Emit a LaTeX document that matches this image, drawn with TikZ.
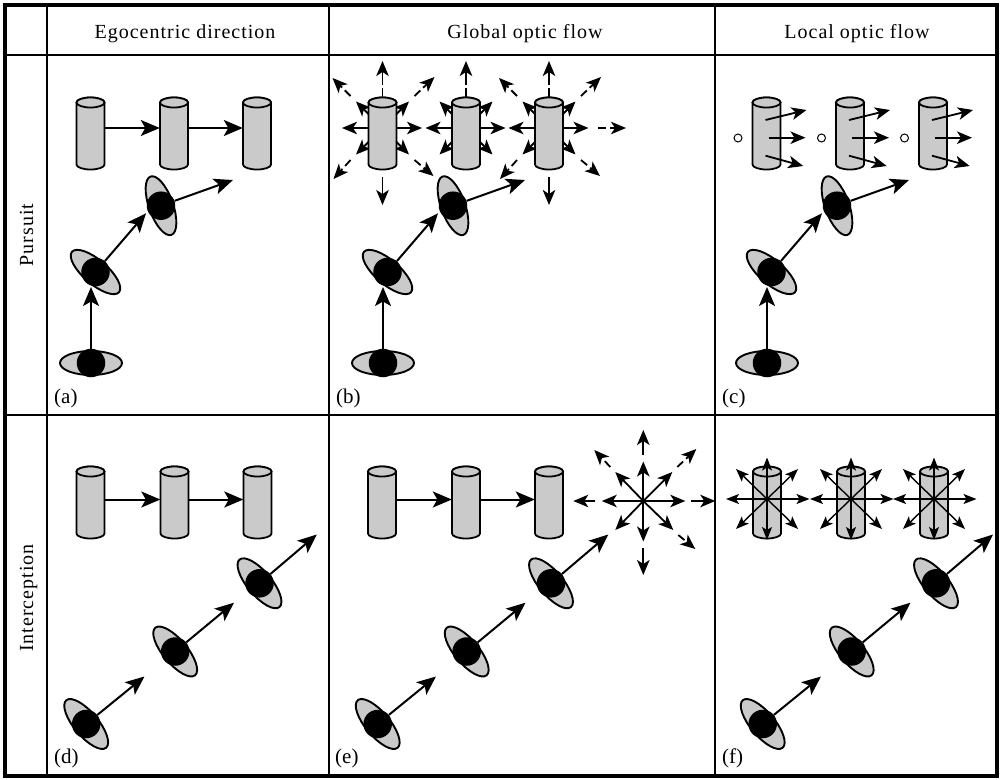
\documentclass[tikz,border=0pt]{standalone}
\usepackage{fontspec}
\setmainfont{Liberation Serif}
\newfontfamily\hdrfont[LetterSpace=5]{Liberation Serif}
\usetikzlibrary{arrows.meta,shapes.geometric,calc}
\definecolor{cg}{RGB}{202,202,202}
\tikzset{
  gridline/.style={line width=2pt},
  frameline/.style={line width=3.8pt},
  cylbody/.style={fill=cg, draw=black, line width=1.8pt},
  cylnode/.style={rectangle, draw=none, inner sep=0pt, minimum width=28pt, minimum height=62pt},
  eyeball/.style={ellipse, draw=black, fill=cg, line width=1.9pt, minimum width=62pt, minimum height=24pt, inner sep=0pt},
  pupil/.style={circle, fill=black, minimum size=28.5pt, inner sep=0pt},
  mv/.style={line width=2pt, -{Stealth[length=19pt,width=16pt,inset=4.5pt]}},
  fl/.style={line width=1.8pt, -{Stealth[length=15pt,width=12.5pt,inset=4pt]}},
  fld/.style={fl, dash pattern=on 8pt off 4pt},
  sm/.style={line width=1.4pt, -{Stealth[length=13pt,width=10pt,inset=3pt]}},
  hdr/.style={font=\hdrfont\fontsize{20}{24}\selectfont, anchor=base},
  lab/.style={font=\fontsize{21}{24}\selectfont, anchor=base west, inner sep=0pt},
  ring/.style={circle, draw=black, line width=1pt, minimum size=8pt, inner sep=0pt},
}
\newcommand\cyl[3]{%
  \path[cylbody] ({#2-14},#3) -- ({#2-14},{#3+62})
     arc[start angle=180,end angle=360,x radius=14pt,y radius=5pt]
     -- ({#2+14},#3)
     arc[start angle=0,end angle=180,x radius=14pt,y radius=5pt] -- cycle;
  \draw[cylbody] (#2,#3) ellipse[x radius=14pt,y radius=5pt];
  \node[cylnode] (#1) at (#2,{#3+31}) {};
}
\newcommand\eye[4]{%
  \node[eyeball, rotate=#4] (#1o) at (#2,#3) {};
  \node[pupil] (#1) at (#2,#3) {};
}
\newcommand\innerrays[1]{%
  \foreach \dx/\dy in {-40.5/0, 39.5/0, -26.5/-26.5, 26.5/-26.5, -26.5/26.5, 26.5/26.5}
    {\draw[fl] (#1) -- ($(#1)+(\dx,\dy)$);}
  \draw[fl, dash pattern=on 40pt off 3pt on 40pt] (#1) -- ($(#1)+(0,-67)$);
}
\newcommand\outerdiag[1]{%
  \foreach \ax/\ay/\bx/\by in {-32/-32/-50/-50, 32/-32/52/-51, -32/32/-49/51, 32/32/51/48}
    {\draw[fld] ($(#1)+(\ax,\ay)$) -- ($(#1)+(\bx,\by)$);}
  \draw[fl] ($(#1)+(0,49)$) -- ($(#1)+(0,77)$);
}
\newcommand\localrays[1]{%
  \draw[fl] ($(#1)+(-1,-13.5)$) -- ($(#1)+(40,-23.5)$);
  \draw[fl] ($(#1)+(2,4.2)$) -- ($(#1)+(39,4.2)$);
  \draw[fl] ($(#1)+(-1,22.2)$) -- ($(#1)+(36.7,32.5)$);
}
\newcommand\smallstar[1]{%
  \foreach \dx/\dy in {0/-41.5, 0/41, -41/0, 42.5/0, -31/-30, 31/-30, -31/30, 31/30}
    {\draw[sm] (#1) -- ($(#1)+(\dx,\dy)$);}
}
\begin{document}
\begin{tikzpicture}[x=1pt,y=-1pt]
\useasboundingbox (0,0) rectangle (1001,779);
\fill[white] (0,0) rectangle (1001,779);

% table
\draw[gridline] (47,5) -- (47,776);
\draw[gridline] (329,5) -- (329,776);
\draw[gridline] (715,5) -- (715,776);
\draw[gridline] (5,55) -- (997,55);
\draw[gridline] (5,415) -- (997,415);
\draw[frameline] (5,5) rectangle (997,776);

% headers
\node[hdr] (h1) at (185,38.8) {Egocentric direction};
\node[hdr] (h2) at (525,38.8) {Global optic flow};
\node[hdr] (h3) at (857,38.8) {Local optic flow};
\node[hdr, rotate=90] (r1) at (33,235) {Pursuit};
\node[hdr, rotate=90] (r2) at (33,598) {Interception};

% panel labels
\node[lab] (la) at (54,403) {(a)};
\node[lab] (lb) at (336,403) {(b)};
\node[lab] (lc) at (722,403) {(c)};
\node[lab] (ld) at (54,763) {(d)};
\node[lab] (le) at (335,763) {(e)};
\node[lab] (lf) at (722,763) {(f)};

% ---------- (a)
\cyl{a1}{90.5}{102.5}
\cyl{a2}{174}{102.5}
\cyl{a3}{257}{102.5}
\draw[mv] ([yshift=5.5pt]a1.east) -- ([yshift=5.5pt]a2.west);
\draw[mv] ([yshift=5.5pt]a2.east) -- ([yshift=5.5pt]a3.west);
\eye{aE1}{91}{363}{0}
\eye{aE2}{95.5}{272}{-40.7}
\eye{aE3}{161}{205.7}{-70.4}
\coordinate (aT1) at (91,287);
\coordinate (aT2) at (146,213.3);
\coordinate (aT3) at (233,180);
\draw[mv] (aE1) -- (aT1);
\draw[mv] (aE2) -- (aT2);
\draw[mv] (aE3) -- (aT3);

% ---------- (b)
\coordinate (b1s) at (382.5,128);
\coordinate (b2s) at (466,128);
\coordinate (b3s) at (549,128);
\innerrays{b1s}
\innerrays{b2s}
\innerrays{b3s}
\outerdiag{b1s}
\outerdiag{b3s}
\draw[fld] ($(b3s)+(49,0)$) -- ($(b3s)+(77,0)$);
\cyl{b1}{382.5}{102.5}
\cyl{b2}{466}{102.5}
\cyl{b3}{549}{102.5}
\eye{bE1}{383}{363}{0}
\eye{bE2}{387.5}{272}{-40.7}
\eye{bE3}{453}{205.7}{-70.4}
\coordinate (bT1) at (383,287);
\coordinate (bT2) at (438,213.3);
\coordinate (bT3) at (525,180);
\draw[mv] (bE1) -- (bT1);
\draw[mv] (bE2) -- (bT2);
\draw[mv] (bE3) -- (bT3);

% ---------- (c)
\cyl{c1}{766.5}{102.5}
\cyl{c2}{850}{102.5}
\cyl{c3}{933}{102.5}
\localrays{c1}
\localrays{c2}
\localrays{c3}
\node[ring] (c1r) at (738,138) {};
\node[ring] (c2r) at (821.5,138) {};
\node[ring] (c3r) at (904.5,138) {};
\eye{cE1}{767}{363}{0}
\eye{cE2}{771.5}{272}{-40.7}
\eye{cE3}{837}{205.7}{-70.4}
\coordinate (cT1) at (767,287);
\coordinate (cT2) at (822,213.3);
\coordinate (cT3) at (909,180);
\draw[mv] (cE1) -- (cT1);
\draw[mv] (cE2) -- (cT2);
\draw[mv] (cE3) -- (cT3);

% ---------- (d)
\cyl{d1}{90.5}{471.5}
\cyl{d2}{174.5}{471.5}
\cyl{d3}{257.5}{471.5}
\draw[mv] ([yshift=3pt]d1.east) -- ([yshift=3pt]d2.west);
\draw[mv] ([yshift=3pt]d2.east) -- ([yshift=3pt]d3.west);
\eye{dE1}{86.2}{724}{-50}
\eye{dE2}{175.2}{651.5}{-50}
\eye{dE3}{259.5}{583.3}{-50}
\coordinate (dT1) at (144.5,676.5);
\coordinate (dT2) at (234,602.7);
\coordinate (dT3) at (316.8,534.5);
\draw[mv] (dE1) -- (dT1);
\draw[mv] (dE2) -- (dT2);
\draw[mv] (dE3) -- (dT3);

% ---------- (e)
\cyl{e1}{382}{471.5}
\cyl{e2}{466}{471.5}
\cyl{e3}{549}{471.5}
\draw[mv] ([yshift=3pt]e1.east) -- ([yshift=3pt]e2.west);
\draw[mv] ([yshift=3pt]e2.east) -- ([yshift=3pt]e3.west);
\coordinate (eS) at (643.3,501);
\foreach \dx/\dy in {0/-39.5, 0/40.5, -41.5/0, 42/0, -28/-29, 29/-29, 30/29, -28/29}
  {\draw[fl] (eS) -- ($(eS)+(\dx,\dy)$);}
\foreach \ax/\ay/\bx/\by in {0/-46/0/-71, 0/47/0/74, -48/0/-70/0, 48/0/72/0}
  {\draw[fl] ($(eS)+(\ax,\ay)$) -- ($(eS)+(\bx,\by)$);}
\foreach \ax/\ay/\bx/\by in {-33/-34/-49/-51, 34/-34/53/-52, 35/34/52/48}
  {\draw[fld] ($(eS)+(\ax,\ay)$) -- ($(eS)+(\bx,\by)$);}
\eye{eE1}{377.7}{724}{-50}
\eye{eE2}{466.7}{651.5}{-50}
\eye{eE3}{551}{583.3}{-50}
\coordinate (eT1) at (436,676.5);
\coordinate (eT2) at (525.5,602.7);
\coordinate (eT3) at (608.3,534.5);
\draw[mv] (eE1) -- (eT1);
\draw[mv] (eE2) -- (eT2);
\draw[mv] (eE3) -- (eT3);

% ---------- (f)
\cyl{f1}{767}{471.5}
\cyl{f2}{851}{471.5}
\cyl{f3}{934}{471.5}
\coordinate (f1s) at ($(f1)+(0,-3.5)$);
\coordinate (f2s) at ($(f2)+(0,-3.5)$);
\coordinate (f3s) at ($(f3)+(0,-3.5)$);
\smallstar{f1s}
\smallstar{f2s}
\smallstar{f3s}
\eye{fE1}{762.7}{724}{-50}
\eye{fE2}{851.7}{651.5}{-50}
\eye{fE3}{936}{583.3}{-50}
\coordinate (fT1) at (821,676.5);
\coordinate (fT2) at (910.5,602.7);
\coordinate (fT3) at (993,534.5);
\draw[mv] (fE1) -- (fT1);
\draw[mv] (fE2) -- (fT2);
\draw[mv] (fE3) -- (fT3);
\end{tikzpicture}
\end{document}
